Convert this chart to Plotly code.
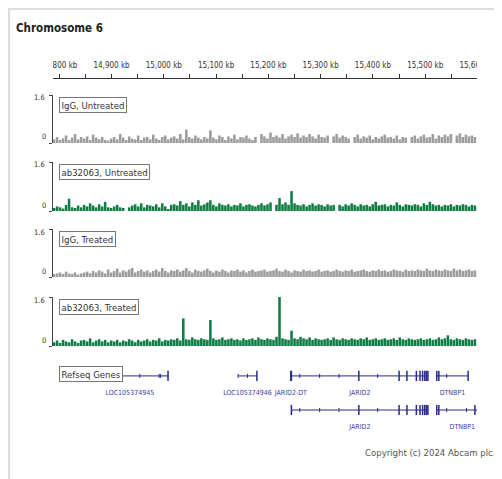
import plotly.graph_objects as go

# page has an 8px body margin, so the figure is placed at page (8, 8)
W, H = 494, 471
OFF = 8
FONT = "DejaVu Sans Condensed, DejaVu Sans, sans-serif"

# ---------------- data ----------------
bin_start_kb = 14790.0
bin_step_kb = 5.75
view_kb = [14788, 15599]

ruler_ticks_kb = [14800, 14850, 14900, 14950, 15000, 15050, 15100, 15150, 15200,
                  15250, 15300, 15350, 15400, 15450, 15500, 15550, 15600]
ruler_label_kb = [14800, 14900, 15000, 15100, 15200, 15300, 15400, 15500, 15600]
ruler_labels = ["14,800 kb", "14,900 kb", "15,000 kb", "15,100 kb", "15,200 kb",
                "15,300 kb", "15,400 kb", "15,500 kb", "15,600 kb"]

track_names = ["IgG, Untreated", "ab32063, Untreated", "IgG, Treated", "ab32063, Treated"]
track_colors = ["#9c9c9c", "#0f7d44", "#9c9c9c", "#0f7d44"]
track_max = 1.6

igg_untreated = [
    0.12, 0.2, 0.1, 0.15, 0.25, 0.1, 0.18, 0.3, 0.12, 0.2,
    0.15, 0.22, 0.1, 0.28, 0.18, 0.12, 0.2, 0.1, 0.08, 0.15,
    0.2, 0.12, 0.3, 0.18, 0.1, 0.22, 0.15, 0.12, 0.25, 0.1,
    0.18, 0.2, 0.12, 0.28, 0.15, 0.1, 0.2, 0.25, 0.12, 0.18,
    0.22, 0.15, 0.3, 0.12, 0.45, 0.2, 0.15, 0.25, 0.18, 0.12,
    0.2, 0.15, 0.42, 0.18, 0.12, 0.25, 0.2, 0.1, 0.22, 0.15,
    0.28, 0.12, 0.2, 0.18, 0.25, 0.15, 0.1, 0.2, 0.0, 0.3,
    0.22, 0.15, 0.35, 0.2, 0.25, 0.18, 0.3, 0.15, 0.22, 0.28,
    0.2, 0.32, 0.18, 0.25, 0.2, 0.3, 0.22, 0.15, 0.28, 0.2,
    0.18, 0.25, 0.0, 0.22, 0.3, 0.18, 0.25, 0.2, 0.15, 0.0,
    0.2, 0.28, 0.15, 0.22, 0.18, 0.25, 0.12, 0.2, 0.15, 0.22,
    0.28, 0.18, 0.2, 0.15, 0.25, 0.12, 0.2, 0.18, 0.0, 0.2,
    0.25, 0.15, 0.22, 0.28, 0.18, 0.2, 0.3, 0.15, 0.25, 0.2,
    0.28, 0.22, 0.3, 0.0, 0.25, 0.32, 0.2, 0.28, 0.22, 0.25, 0.2,
]
ab_untreated = [
    0.1, 0.15, 0.12, 0.08, 0.2, 0.4, 0.12, 0.1, 0.18, 0.12,
    0.2, 0.15, 0.25, 0.18, 0.12, 0.22, 0.15, 0.3, 0.12, 0.1,
    0.15, 0.2, 0.12, 0.1, 0.0, 0.12, 0.18, 0.22, 0.15, 0.25,
    0.12, 0.2, 0.18, 0.15, 0.22, 0.12, 0.25, 0.15, 0.05, 0.2,
    0.22, 0.18, 0.32, 0.2, 0.25, 0.15, 0.28, 0.2, 0.35, 0.18,
    0.22, 0.28, 0.35, 0.2, 0.15, 0.25, 0.2, 0.18, 0.22, 0.15,
    0.2, 0.18, 0.25, 0.15, 0.2, 0.22, 0.18, 0.15, 0.2, 0.25,
    0.18, 0.22, 0.28, 0.0, 0.2, 0.42, 0.22, 0.28, 0.2, 0.65,
    0.25, 0.2, 0.18, 0.22, 0.15, 0.2, 0.25, 0.18, 0.22, 0.2,
    0.15, 0.22, 0.18, 0.2, 0.0, 0.2, 0.15, 0.22, 0.18, 0.25,
    0.2, 0.15, 0.22, 0.18, 0.2, 0.15, 0.22, 0.3, 0.18, 0.2,
    0.22, 0.15, 0.2, 0.18, 0.28, 0.2, 0.15, 0.22, 0.2, 0.18,
    0.22, 0.2, 0.15, 0.25, 0.2, 0.3, 0.22, 0.18, 0.2, 0.15,
    0.2, 0.18, 0.22, 0.15, 0.2, 0.18, 0.22, 0.2, 0.15, 0.2, 0.18,
]
igg_treated = [
    0.1, 0.12, 0.15, 0.1, 0.18, 0.12, 0.1, 0.15, 0.08, 0.12,
    0.15, 0.18, 0.12, 0.2, 0.15, 0.22, 0.18, 0.12, 0.25, 0.15,
    0.2, 0.28, 0.15, 0.22, 0.18, 0.25, 0.3, 0.15, 0.2, 0.25,
    0.18, 0.22, 0.15, 0.2, 0.25, 0.18, 0.3, 0.2, 0.15, 0.22,
    0.2, 0.25, 0.18, 0.22, 0.3, 0.2, 0.15, 0.25, 0.2, 0.18,
    0.22, 0.28, 0.2, 0.15, 0.22, 0.18, 0.25, 0.2, 0.15, 0.22,
    0.2, 0.25, 0.18, 0.22, 0.15, 0.2, 0.25, 0.18, 0.2, 0.22,
    0.25, 0.18, 0.2, 0.22, 0.28, 0.2, 0.18, 0.25, 0.2, 0.15,
    0.22, 0.2, 0.18, 0.25, 0.2, 0.22, 0.18, 0.2, 0.25, 0.18,
    0.2, 0.22, 0.18, 0.2, 0.25, 0.2, 0.18, 0.22, 0.2, 0.25,
    0.18, 0.2, 0.22, 0.25, 0.2, 0.18, 0.22, 0.2, 0.25, 0.2,
    0.22, 0.18, 0.2, 0.25, 0.22, 0.2, 0.18, 0.25, 0.2, 0.22,
    0.2, 0.25, 0.22, 0.2, 0.28, 0.22, 0.2, 0.25, 0.22, 0.2,
    0.25, 0.22, 0.2, 0.28, 0.22, 0.25, 0.2, 0.22, 0.25, 0.2, 0.22,
]
ab_treated = [
    0.12, 0.18, 0.1, 0.2, 0.15, 0.12, 0.22, 0.15, 0.1, 0.18,
    0.2, 0.15, 0.25, 0.12, 0.18, 0.22, 0.15, 0.2, 0.12, 0.18,
    0.15, 0.2, 0.12, 0.18, 0.15, 0.22, 0.18, 0.12, 0.2, 0.15,
    0.18, 0.22, 0.15, 0.2, 0.18, 0.25, 0.15, 0.2, 0.18, 0.22,
    0.2, 0.25, 0.18, 0.9, 0.22, 0.2, 0.28, 0.22, 0.2, 0.25,
    0.22, 0.2, 0.85, 0.25, 0.2, 0.22, 0.28, 0.2, 0.22, 0.25,
    0.2, 0.22, 0.18, 0.25, 0.2, 0.22, 0.25, 0.2, 0.28, 0.22,
    0.2, 0.25, 0.22, 0.2, 0.3, 1.6, 0.25, 0.22, 0.2, 0.5,
    0.25, 0.22, 0.3, 0.25, 0.22, 0.28, 0.2, 0.25, 0.22, 0.2,
    0.22, 0.25, 0.2, 0.28, 0.22, 0.2, 0.25, 0.22, 0.2, 0.25,
    0.22, 0.2, 0.25, 0.22, 0.28, 0.2, 0.22, 0.25, 0.2, 0.22,
    0.25, 0.2, 0.22, 0.25, 0.2, 0.28, 0.22, 0.2, 0.25, 0.22,
    0.2, 0.22, 0.25, 0.2, 0.22, 0.25, 0.2, 0.22, 0.28, 0.22,
    0.25, 0.35, 0.22, 0.2, 0.25, 0.22, 0.2, 0.25, 0.22, 0.2, 0.22,
]
track_values = [igg_untreated, ab_untreated, igg_treated, ab_treated]

# Refseq genes (kb)
gene_names = ["LOC105374945", "LOC105374946", "JARID2-DT", "JARID2", "DTNBP1", "JARID2", "DTNBP1"]
gene_rows = [0, 0, 0, 0, 0, 1, 1]
gene_start = [14862, 15142, 15241, 15244, 15522, 15244, 15522]
gene_end = [15008, 15178, 15245, 15506, 15582, 15506, 15620]
gene_exons = [
    [15008],
    [15178],
    [15243],
    [15244, 15373, 15450, 15465, 15483, 15490, 15495, 15499, 15502, 15505],
    [15522, 15526, 15582],
    [15244, 15373, 15450, 15465, 15483, 15490, 15495, 15499, 15502, 15505],
    [15522, 15526, 15595],
]
gene_marks = [
    [14954, 14991, 14994],
    [15142, 15160],
    [],
    [15260, 15298, 15335, 15409],
    [15541],
    [15260, 15298, 15335, 15409],
    [15541, 15579],
]

# ---------------- layout helpers (page pixel -> paper) ----------------
def fx(px):
    return (px - OFF) / W

def fy(px):
    return 1 - (px - OFF) / H

X_DOM = [fx(53), fx(477)]
track_base_px = [143, 211, 277, 346]
track_top_px = [95, 162, 229, 297]
GENE_NAVY = "#2a2a8a"

fig = go.Figure()

# signal tracks
for k in range(4):
    ya = "y%d" % (k + 2)
    xs = [bin_start_kb + i * bin_step_kb for i in range(len(track_values[k]))]
    fig.add_trace(go.Bar(
        x=xs, y=track_values[k], xaxis="x", yaxis=ya, width=bin_step_kb * 0.85,
        marker=dict(color=track_colors[k], line=dict(width=0)),
        hoverinfo="skip", showlegend=False,
    ))

# genes
line_x, line_y, ex_x, ex_y, mk_x, mk_y = [], [], [], [], [], []
for g in range(len(gene_names)):
    r = -gene_rows[g]
    line_x += [gene_start[g], gene_end[g], None]
    line_y += [r, r, None]
    for e in gene_exons[g]:
        ex_x += [e, e, None]
        ex_y += [r - 0.15, r + 0.15, None]
    for m in gene_marks[g]:
        mk_x += [m, m, None]
        mk_y += [r - 0.06, r + 0.06, None]

fig.add_trace(go.Scatter(x=line_x, y=line_y, xaxis="x", yaxis="y6", mode="lines",
                         line=dict(color=GENE_NAVY, width=1), hoverinfo="skip", showlegend=False))
fig.add_trace(go.Scatter(x=ex_x, y=ex_y, xaxis="x", yaxis="y6", mode="lines",
                         line=dict(color=GENE_NAVY, width=1.5), hoverinfo="skip", showlegend=False))
fig.add_trace(go.Scatter(x=mk_x, y=mk_y, xaxis="x", yaxis="y6", mode="lines",
                         line=dict(color=GENE_NAVY, width=1), hoverinfo="skip", showlegend=False))
fig.add_trace(go.Scatter(
    x=[(gene_start[g] + gene_end[g]) / 2 for g in range(len(gene_names))],
    y=[-gene_rows[g] - 0.5 for g in range(len(gene_names))],
    text=gene_names, mode="text", xaxis="x", yaxis="y6", cliponaxis=True,
    textfont=dict(family=FONT, size=7, color="#3a3aa0"),
    hoverinfo="skip", showlegend=False,
))

# ruler labels (clipped to ruler width)
fig.add_trace(go.Scatter(
    x=ruler_label_kb, y=[0.5] * len(ruler_label_kb), text=ruler_labels, mode="text",
    xaxis="x", yaxis="y7", cliponaxis=True,
    textfont=dict(family=FONT, size=8, color="#333333"),
    hoverinfo="skip", showlegend=False,
))

layout = dict(
    width=W, height=H, margin=dict(l=0, r=0, t=0, b=0),
    paper_bgcolor="white", plot_bgcolor="white", barmode="overlay",
    font=dict(family=FONT, color="#333333"),
    xaxis=dict(domain=X_DOM, range=view_kb, anchor="free", position=fy(77.5), side="top",
               showline=True, linecolor="#333333", linewidth=1,
               tickmode="array", tickvals=ruler_ticks_kb, showticklabels=False,
               ticks="outside", ticklen=4, tickcolor="#333333", showgrid=False, zeroline=False,
               fixedrange=True),
)
for k in range(4):
    layout["yaxis%d" % (k + 2)] = dict(
        domain=[fy(track_base_px[k]), fy(track_top_px[k])], range=[0, track_max],
        anchor="free", position=fx(52), showline=True, linecolor="#444444", linewidth=1,
        tickmode="array", tickvals=[0, track_max], showticklabels=False,
        ticks="outside", ticklen=3, tickcolor="#444444", showgrid=False, zeroline=False,
    )
layout["yaxis6"] = dict(domain=[fy(440), fy(365)], range=[-1.88, 0.32], visible=False,
                        anchor="free", position=0)
layout["yaxis7"] = dict(domain=[fy(74), fy(58)], range=[0, 1], visible=False,
                        anchor="free", position=0)
fig.update_layout(**layout)

ann = []
ann.append(dict(text="<b>Chromosome 6</b>", x=fx(14), y=fy(28), xref="paper", yref="paper",
                xanchor="left", yanchor="middle", showarrow=False,
                font=dict(family=FONT, size=11.5, color="#222222")))
for k in range(4):
    ann.append(dict(text=track_names[k], x=fx(59), y=fy(track_top_px[k] + 2), xref="paper", yref="paper",
                    xanchor="left", yanchor="top", showarrow=False,
                    bgcolor="white", bordercolor="#777777", borderwidth=1, borderpad=1.5,
                    font=dict(family=FONT, size=9.5, color="#333333")))
    ann.append(dict(text="1.6", x=fx(47), y=fy(track_top_px[k] + 3), xref="paper", yref="paper",
                    xanchor="right", yanchor="middle", showarrow=False,
                    font=dict(family=FONT, size=7.5, color="#333333")))
    ann.append(dict(text="0", x=fx(48), y=fy(track_base_px[k] - 6), xref="paper", yref="paper",
                    xanchor="right", yanchor="middle", showarrow=False,
                    font=dict(family=FONT, size=7.5, color="#333333")))
ann.append(dict(text="Refseq Genes", x=fx(59), y=fy(366), xref="paper", yref="paper",
                xanchor="left", yanchor="top", showarrow=False,
                bgcolor="white", bordercolor="#777777", borderwidth=1, borderpad=1.5,
                font=dict(family=FONT, size=9.5, color="#333333")))
ann.append(dict(text="Copyright (c) 2024 Abcam plc.", x=fx(497), y=fy(452), xref="paper", yref="paper",
                xanchor="right", yanchor="middle", showarrow=False,
                font=dict(family=FONT, size=9.5, color="#555555")))
fig.update_layout(annotations=ann)

fig.add_shape(type="rect", xref="paper", yref="paper", x0=0.002, x1=1.2, y0=-0.2, y1=0.998,
              line=dict(color="#dddddd", width=2), fillcolor="rgba(0,0,0,0)", layer="below")

fig.write_html("out.html")
